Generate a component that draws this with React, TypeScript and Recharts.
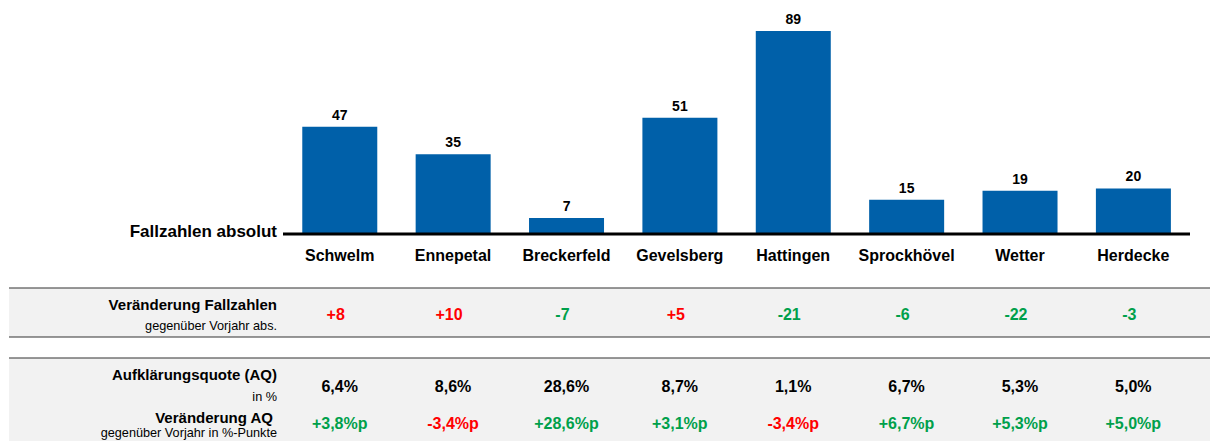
import { Bar, BarChart, LabelList, XAxis, YAxis } from 'recharts'

const categories = [
	'Schwelm',
	'Ennepetal',
	'Breckerfeld',
	'Gevelsberg',
	'Hattingen',
	'Sprockhövel',
	'Wetter',
	'Herdecke',
]
const fallzahlen = [47, 35, 7, 51, 89, 15, 19, 20]
const veraenderungFallzahlen = ['+8', '+10', '-7', '+5', '-21', '-6', '-22', '-3']
const aufklaerungsquote = ['6,4%', '8,6%', '28,6%', '8,7%', '1,1%', '6,7%', '5,3%', '5,0%']
const veraenderungAQ = [
	'+3,8%p',
	'-3,4%p',
	'+28,6%p',
	'+3,1%p',
	'-3,4%p',
	'+6,7%p',
	'+5,3%p',
	'+5,0%p',
]

const data = categories.map((name, i) => ({
	name,
	fall: fallzahlen[i],
	diff: veraenderungFallzahlen[i],
	aq: aufklaerungsquote[i],
	diffAq: veraenderungAQ[i],
}))

const FONT = '"Liberation Sans", Arial, sans-serif'
const RED = '#ff0000'
const GREEN = '#00a04b'
const BLUE = '#0060a9'

const Tick = (props: any) => {
	const { x, y, index } = props
	const row = data[index]
	if (!row) return null
	const fallColor = row.diff.startsWith('+') ? RED : GREEN
	const aqColor = row.diffAq.startsWith('+') ? GREEN : RED
	return (
		<g fontFamily={FONT} fontWeight='bold' textAnchor='middle'>
			<text x={x} y={y + 27} fontSize={16} fill='#000'>
				{row.name}
			</text>
			<text x={x - 4} y={y + 86} fontSize={16} fill={fallColor}>
				{row.diff}
			</text>
			<text x={x} y={y + 158} fontSize={16} fill='#000'>
				{row.aq}
			</text>
			<text x={x} y={y + 195} fontSize={16} fill={aqColor}>
				{row.diffAq}
			</text>
		</g>
	)
}

const Background = () => (
	<svg
		width={1210}
		height={441}
		style={{ position: 'absolute', left: 0, top: 0 }}
		fontFamily={FONT}
	>
		<rect x={9} y={288} width={1201} height={49} fill='#f2f2f2' />
		<line x1={9} x2={1210} y1={288} y2={288} stroke='#333' strokeWidth={1.2} />
		<line x1={9} x2={1210} y1={337} y2={337} stroke='#333' strokeWidth={1.2} />
		<rect x={9} y={358} width={1201} height={83} fill='#f2f2f2' />
		<line x1={9} x2={1210} y1={358} y2={358} stroke='#333' strokeWidth={1.2} />
		<g textAnchor='end' fill='#000'>
			<text x={277} y={237} fontSize={17} fontWeight='bold'>
				Fallzahlen absolut
			</text>
			<text x={277} y={310} fontSize={15} fontWeight='bold'>
				Veränderung Fallzahlen
			</text>
			<text x={277} y={330} fontSize={12.7}>
				gegenüber Vorjahr abs.
			</text>
			<text x={277} y={380} fontSize={15} fontWeight='bold'>
				Aufklärungsquote (AQ)
			</text>
			<text x={277} y={401} fontSize={12.7}>
				in %
			</text>
			<text x={273} y={423} fontSize={15} fontWeight='bold'>
				Veränderung AQ
			</text>
			<text x={277} y={437} fontSize={12.7}>
				gegenüber Vorjahr in %-Punkte
			</text>
		</g>
	</svg>
)

export default function App() {
	return (
		<div style={{ position: 'relative', width: 1210, height: 441 }}>
			<style>{'body{margin:0}'}</style>
			<Background />
			<div style={{ position: 'absolute', left: 0, top: 0 }}>
				<BarChart
					width={1210}
					height={441}
					data={data}
					margin={{ top: 6, right: 20, left: 283, bottom: 0 }}
					barCategoryGap='17%'
				>
					<YAxis hide domain={[0, 100]} />
					<XAxis
						dataKey='name'
						height={207}
						interval={0}
						tickLine={false}
						tickSize={0}
						tickMargin={0}
						axisLine={{ stroke: '#000', strokeWidth: 3 }}
						tick={<Tick />}
					/>
					<Bar dataKey='fall' fill={BLUE} isAnimationActive={false}>
						<LabelList
							dataKey='fall'
							position='top'
							offset={7}
							fill='#000'
							fontSize={14}
							fontWeight='bold'
							fontFamily={FONT}
						/>
					</Bar>
				</BarChart>
			</div>
		</div>
	)
}
